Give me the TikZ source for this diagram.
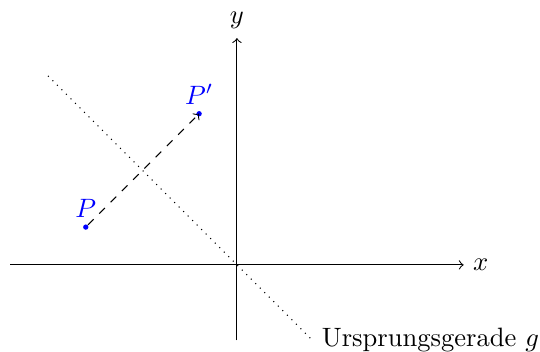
\documentclass[tikz,border=0pt]{standalone}
\begin{document}
\begin{tikzpicture}[x=0.5cm,y=0.5cm]
\tikzset{ptdot/.style={circle,fill=blue,inner sep=0pt,minimum size=2pt},
  ptlabel/.style={text=blue}}
\useasboundingbox (-6.27,-2.29) rectangle (8.02,7.01);
\coordinate (xl) at (-6,0);
\coordinate (xr) at (6,0);
\coordinate (yb) at (0,-2);
\coordinate (yt) at (0,6);
\coordinate (g1) at (-5,5);
\coordinate (g2) at (2,-2);
\draw[->] (xl) -- (xr) node[right] {$x$};
\draw[->] (yb) -- (yt) node[above] {$y$};
\draw[dotted] (g1) -- (g2) node[right] (glab) {Ursprungsgerade $g$};
\node[ptdot] (P) at (-4,1) {};
\node[ptdot] (Pp) at (-1,4) {};
\node[ptlabel,above] (Plab) at (P.center) {$P$};
\node[ptlabel,above] (Pplab) at (Pp.center) {$P'$};
\draw[dashed,->] (P) -- (Pp.center);
\end{tikzpicture}
\end{document}
